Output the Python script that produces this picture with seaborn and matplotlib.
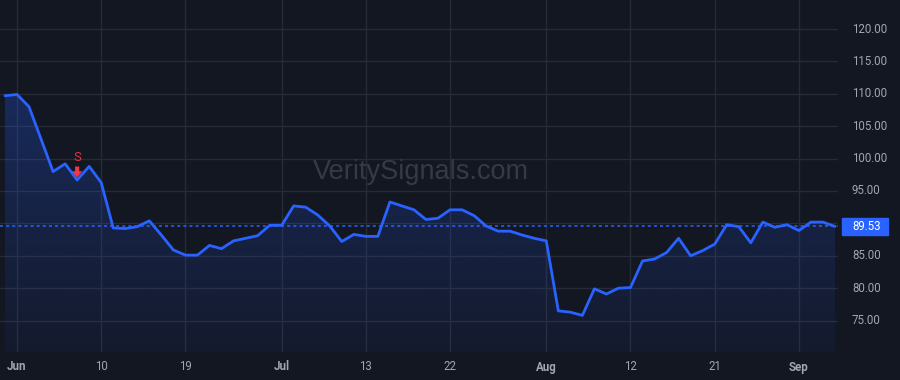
import numpy as np
import pandas as pd
import matplotlib
matplotlib.use("Agg")
import matplotlib.pyplot as plt
import seaborn as sns
from matplotlib.patches import Polygon

# ---- data -------------------------------------------------------------
prices = [109.7, 109.9, 108.0, 103.0, 98.0, 99.2, 96.7, 98.8, 96.3, 89.3,
          89.2, 89.5, 90.4, 88.2, 85.9, 85.1, 85.1, 86.6, 86.1, 87.3,
          87.7, 88.1, 89.7, 89.7, 92.7, 92.5, 91.3, 89.6, 87.2, 88.3,
          88.0, 88.0, 93.3, 92.7, 92.1, 90.6, 90.8, 92.1, 92.1, 91.2,
          89.6, 88.8, 88.8, 88.2, 87.7, 87.3, 76.5, 76.3, 75.8, 79.9,
          79.1, 80.0, 80.1, 84.2, 84.5, 85.5, 87.7, 85.0, 85.8, 86.8,
          89.8, 89.5, 87.0, 90.2, 89.4, 89.8, 88.9, 90.2, 90.2, 89.53]
last_price = 89.53
tick_pos = [1, 8, 15, 23, 30, 37, 45, 52, 59, 66]
tick_labels = ["Jun", "10", "19", "Jul", "13", "22", "Aug", "12", "21", "Sep"]
month_labels = ["Jun", "Jul", "Aug", "Sep"]
y_ticks = [75, 80, 85, 90, 95, 100, 105, 110, 115, 120]
signal_idx = 6
signal_label = "S"
watermark = "VeritySignals.com"

df = pd.DataFrame({"i": np.arange(len(prices)), "price": prices})

# ---- style ------------------------------------------------------------
BG = "#131722"
GRID = "#272b36"
LINE = "#2962ff"
TXT = "#a3a6af"
RED = "#f23645"

sns.set_theme(style="dark")
plt.rcParams["font.family"] = ["Roboto", "DejaVu Sans"]

fig = plt.figure(figsize=(9, 3.8), dpi=100, facecolor=BG)
ax = fig.add_axes([0, 28 / 380, 838 / 900, 352 / 380])
ax.set_facecolor(BG)

ymin, ymax = 70.15, 124.48
xmin, xmax = -0.413, 69.25


def ypx_to_val(px):
    # pixel row (from top of figure) -> data value
    return ymax - px / 352 * (ymax - ymin)


# grid
for y in y_ticks:
    ax.axhline(y, color=GRID, lw=1, zorder=0)
for x in tick_pos:
    ax.axvline(x, color=GRID, lw=1, zorder=0)

# watermark
ax.text(421 / 838, 1 - 172 / 352, watermark, transform=ax.transAxes,
        fontsize=19.5, color="#363a45", ha="center", va="center",
        family=["Liberation Sans", "DejaVu Sans"], zorder=0.5)

# gradient fill under the line
xs = df["i"].to_numpy()
ys = df["price"].to_numpy()
verts = [(xs[0], ymin)] + list(zip(xs, ys)) + [(xs[-1], ymin)]
poly = Polygon(verts, closed=True, facecolor="none", edgecolor="none")
ax.add_patch(poly)
grad = np.linspace(0.26, 0.05, 256).reshape(-1, 1)
rgba = np.zeros((256, 1, 4))
rgba[..., 0] = 41 / 255
rgba[..., 1] = 98 / 255
rgba[..., 2] = 1.0
rgba[..., 3] = grad
im = ax.imshow(rgba, extent=[xs[0], xs[-1], ymin, max(ys)], aspect="auto",
               origin="upper", zorder=1)
im.set_clip_path(poly)
ax.set_xlim(xmin, xmax)
ax.set_ylim(ymin, ymax)

# line
sns.lineplot(data=df, x="i", y="price", ax=ax, color=LINE, lw=2,
             zorder=3, legend=False)

# last price dashed line
ax.axhline(last_price, color=LINE, lw=1.1, ls=(0, (2, 2)), zorder=2)

# signal marker (arrow just above the point, label above the arrow)
ax.annotate("", xy=(signal_idx, ypx_to_val(177.5)),
            xytext=(signal_idx, ypx_to_val(166.5)),
            arrowprops=dict(width=3.0, headwidth=7.5, headlength=4.5,
                            shrink=0, color=RED, lw=0),
            zorder=4)
ax.text(signal_idx, ypx_to_val(157.5), signal_label, color=RED, fontsize=9.5,
        ha="center", va="center", zorder=4, alpha=0.9)

# axes cosmetics
ax.set_xticks([])
ax.set_yticks([])
ax.set_xlabel("")
ax.set_ylabel("")
for s in ax.spines.values():
    s.set_visible(False)

# x tick labels
for p, lab in zip(tick_pos, tick_labels):
    xf = (p - xmin) / (xmax - xmin) * (838 / 900)
    fig.text(xf, 1 - 367 / 380, lab, color=TXT, fontsize=8.3,
             ha="center", va="center",
             fontweight="bold" if lab in month_labels else "normal")


# y tick labels on the right
def yfig(v):
    return 28 / 380 + (v - ymin) / (ymax - ymin) * (352 / 380)


for v in y_ticks:
    if abs(v - last_price) < 2:
        continue
    fig.text(852 / 900, yfig(v), f"{v:.2f}", color=TXT, fontsize=8.3,
             ha="left", va="center")

# last price label
fig.patches.append(plt.Rectangle((842 / 900, yfig(last_price) - 8.5 / 380),
                                 46 / 900, 17 / 380, transform=fig.transFigure,
                                 color=LINE, zorder=5))
fig.text(852 / 900, yfig(last_price), f"{last_price:.2f}", color="white",
         fontsize=8.3, ha="left", va="center", zorder=6)

fig.savefig("out.png", dpi=100, facecolor=BG)
